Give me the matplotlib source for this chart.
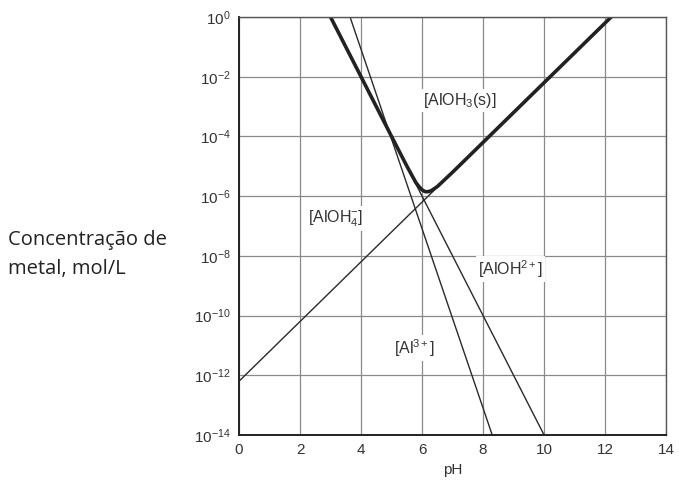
import matplotlib
matplotlib.use("Agg")
import matplotlib.pyplot as plt
import numpy as np

# values (pH, log10 concentration)
ph_al3 = [3.64, 8.3]
log_al3 = [0.0, -14.0]

ph_aloh2 = [3.0, 10.0]
log_aloh2 = [0.0, -14.0]

ph_aloh4 = [0.0, 12.2]
log_aloh4 = [-12.2, 0.0]

# thick solubility boundary
ph_total = [2.9, 4.0, 5.0, 5.5, 5.8, 5.9, 6.0, 6.1, 6.2, 6.3, 6.5, 7.0, 9.0, 12.3]
log_total = [0.2, -2.0, -4.0, -4.99, -5.55, -5.68, -5.79, -5.85, -5.85, -5.82, -5.68, -5.2, -3.2, 0.1]

x_ticks = [0, 2, 4, 6, 8, 10, 12, 14]
y_exps = [0, -2, -4, -6, -8, -10, -12, -14]

labels = [
    ("[AlOH$_3$(s)]", 7.25, -2.8),
    ("[AlOH$_4^{-}$]", 3.15, -6.75),
    ("[AlOH$^{2+}$]", 8.9, -8.45),
    ("[Al$^{3+}$]", 5.75, -11.1),
]

plt.rcParams["font.family"] = ["Liberation Sans", "DejaVu Sans"]
plt.rcParams["mathtext.fontset"] = "custom"
plt.rcParams["mathtext.rm"] = "Liberation Sans"
plt.rcParams["mathtext.it"] = "Liberation Sans:italic"

fig = plt.figure(figsize=(6.79, 4.86), dpi=100)
ax = fig.add_axes([0.352, 0.105, 0.629, 0.860])

line_col = "#2a2a2a"
for xs, ls in [(ph_al3, log_al3), (ph_aloh2, log_aloh2), (ph_aloh4, log_aloh4)]:
    ax.plot(xs, 10.0 ** np.array(ls), color=line_col, lw=1.0)
ax.plot(ph_total, 10.0 ** np.array(log_total), color="#222222", lw=2.6,
        solid_joinstyle="round")

ax.set_yscale("log")
ax.set_xlim(0, 14)
ax.set_ylim(1e-14, 1e0)
ax.set_xticks(x_ticks)
ax.set_xticklabels([str(t) for t in x_ticks])
ax.set_yticks([10.0 ** e for e in y_exps])
ax.set_yticklabels(["10$^{%d}$" % e if e == 0 else "10$^{\u2212%d}$" % (-e) for e in y_exps])
ax.minorticks_off()
ax.tick_params(length=0, pad=6, labelsize=11, colors="#333333")
ax.grid(True, color="#8a8a8a", lw=0.9)
ax.set_axisbelow(True)
for s in ax.spines.values():
    s.set_color("#555555")
    s.set_linewidth(1.0)
ax.spines["left"].set_color("#222222")
ax.spines["bottom"].set_color("#222222")
ax.spines["left"].set_linewidth(1.4)
ax.spines["bottom"].set_linewidth(1.4)

for txt, x, ly in labels:
    ax.text(x, 10.0 ** ly, txt, ha="center", va="center", fontsize=11.5, color="#333333",
            bbox=dict(facecolor="white", edgecolor="none", pad=1.5), zorder=3)

ax.set_xlabel("pH", fontsize=11, color="#333333", labelpad=4)
fig.text(0.012, 0.476, "Concentração de\nmetal, mol/L", ha="left", va="center",
         fontsize=14.5, family="Open Sans", color="#222222", linespacing=1.6)

fig.savefig("out.png", dpi=100)
